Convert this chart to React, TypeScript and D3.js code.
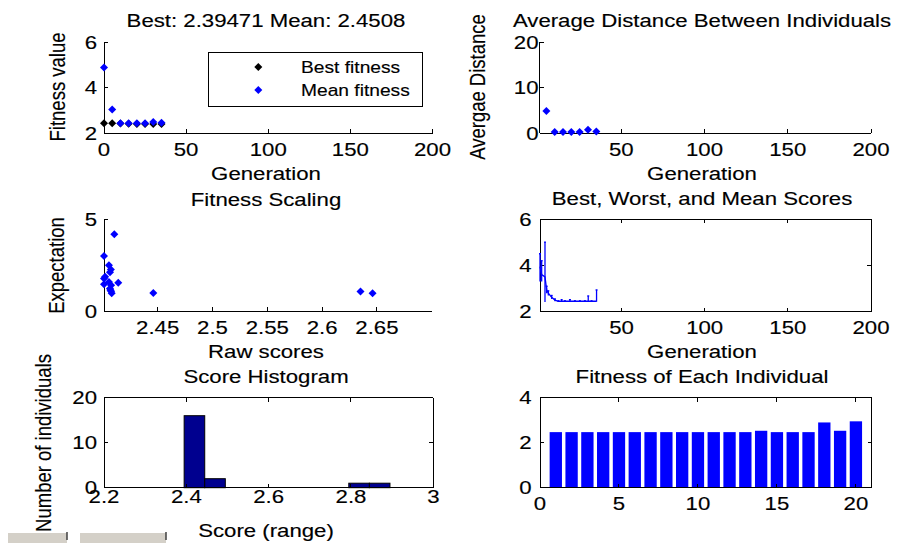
import React from 'react';
import * as d3 from 'd3';

// ---------- data ----------
// Panel 1: best / mean fitness per generation
const fitGens = [0, 5, 10, 15, 20, 25, 30, 35];
const bestFitness = [2.43, 2.43, 2.42, 2.41, 2.40, 2.40, 2.40, 2.395];
const meanFitness = [4.89, 3.04, 2.43, 2.43, 2.43, 2.43, 2.49, 2.45];

// Panel 2: average distance between individuals
const distGens = [5, 10, 15, 20, 25, 30, 35];
const avgDistance = [4.9, 0.3, 0.3, 0.3, 0.3, 0.8, 0.4];

// Panel 3: fitness scaling (raw score vs expectation)
const rawScores = [2.4104, 2.401, 2.4055, 2.4073, 2.4065, 2.402, 2.401, 2.414, 2.4055, 2.401, 2.4075, 2.4065, 2.4075, 2.408, 2.4068, 2.446, 2.635, 2.646];
const expectations = [4.18, 2.99, 2.5, 2.27, 2.12, 1.87, 1.78, 1.54, 1.59, 1.47, 1.41, 1.23, 1.09, 0.98, 1.15, 0.99, 1.07, 0.98];

// Panel 4: best, worst, mean scores
const rangeGens = [1, 2, 4, 5, 6, 8, 10, 12, 14, 16, 19, 22, 25, 28, 30, 32, 35];
const rangeMean = [3.95, 3.6, 3.5, 2.94, 2.8, 2.62, 2.5, 2.45, 2.45, 2.45, 2.45, 2.45, 2.45, 2.45, 2.46, 2.45, 2.45];
const rangeMin = [3.3, 3.3, 2.42, 2.8, 2.7, 2.55, 2.45, 2.43, 2.43, 2.43, 2.43, 2.43, 2.43, 2.43, 2.43, 2.43, 2.43];
const rangeMax = [4.5, 4.2, 5.0, 3.1, 2.9, 2.7, 2.55, 2.47, 2.52, 2.47, 2.52, 2.47, 2.47, 2.47, 2.68, 2.47, 2.94];

// Panel 5: score histogram
const histStart = 2.39471;
const histWidth = 0.05;
const histCounts = [16, 2, 0, 0, 0, 0, 0, 0, 1, 1];

// Panel 6: fitness of each individual
const individuals = d3.range(1, 21);
const individualFitness = [2.47, 2.47, 2.47, 2.47, 2.47, 2.47, 2.47, 2.47, 2.47, 2.47, 2.47, 2.47, 2.47, 2.53, 2.47, 2.47, 2.47, 2.9, 2.53, 2.95];

// tick labels
const genTicks = [0, 50, 100, 150, 200];
const genTicksNoZero = [50, 100, 150, 200];
const fitTicks = [2, 4, 6];
const distTicks = [0, 10, 20];
const rawTicks = [2.45, 2.5, 2.55, 2.6, 2.65];
const expTicks = [0, 5];
const histXTicks = [2.2, 2.4, 2.6, 2.8, 3];
const histYTicks = [0, 10, 20];
const indXTicks = [0, 5, 10, 15, 20];
const indYTicks = [0, 2, 4];

// ---------- style ----------
const SX = 1.2;
const FS = 18.5;
const FONT = '"Liberation Sans", Arial, Helvetica, sans-serif';
const BLUE = '#0000ff';
const NAVY = '#00008f';

const Txt = ({ x, y, anchor = 'middle', rot = false, size = FS, children }: any) => (
  <text
    transform={`translate(${x},${y}) scale(${SX},1)${rot ? ' rotate(-90)' : ''}`}
    textAnchor={anchor}
    fontSize={size}
    fontFamily={FONT}
    fill="#000"
    stroke="#000"
    strokeWidth={0.15}
  >
    {children}
  </text>
);

const DIAMOND = 'M0,-4L4,0L0,4L-4,0Z';

const Frame = ({ xs, ys, xTicks, yTicks, box, xLabBase, yLabRight, tickLen = 4 }: any) => {
  const [x0, x1] = xs.range();
  const [yb, yt] = ys.range();
  return (
    <g>
      <g stroke="#000" strokeWidth={1} shapeRendering="crispEdges" fill="none">
        <line x1={x0} y1={yb} x2={x0} y2={yt} />
        <line x1={x0} y1={yb} x2={x1} y2={yb} />
        {box && <line x1={x0} y1={yt} x2={x1} y2={yt} />}
        {box && <line x1={x1} y1={yb} x2={x1} y2={yt} />}
        {xTicks.map((t: number) => (
          <g key={'x' + t}>
            <line x1={xs(t)} y1={yb} x2={xs(t)} y2={yb - tickLen} />
            {box && <line x1={xs(t)} y1={yt} x2={xs(t)} y2={yt + tickLen} />}
          </g>
        ))}
        {yTicks.map((t: number) => (
          <g key={'y' + t}>
            <line x1={x0} y1={ys(t)} x2={x0 + tickLen} y2={ys(t)} />
            {box && <line x1={x1} y1={ys(t)} x2={x1 - tickLen} y2={ys(t)} />}
          </g>
        ))}
      </g>
      {xTicks.map((t: number) => (
        <Txt key={'xl' + t} x={xs(t)} y={xLabBase}>{String(t)}</Txt>
      ))}
      {yTicks.map((t: number) => (
        <Txt key={'yl' + t} x={yLabRight} y={ys(t) + 6.6} anchor="end">{String(t)}</Txt>
      ))}
    </g>
  );
};

export default function App() {
  // Panel scales
  const x1s = d3.scaleLinear().domain([0, 200]).range([104, 432.5]);
  const y1s = d3.scaleLinear().domain([2, 6]).range([133, 42.3]);

  const x2s = d3.scaleLinear().domain([1, 200]).range([539.7, 871]);
  const y2s = d3.scaleLinear().domain([0, 20]).range([133.3, 42.3]);

  const x3s = d3.scaleLinear().domain([2.401, 2.7005]).range([104, 432.3]);
  const y3s = d3.scaleLinear().domain([0, 5]).range([311.3, 219]);

  const x4s = d3.scaleLinear().domain([1, 200]).range([540, 871]);
  const y4s = d3.scaleLinear().domain([2, 6]).range([311.7, 219]);

  const x5s = d3.scaleLinear().domain([2.2, 3]).range([104, 433.3]);
  const y5s = d3.scaleLinear().domain([0, 20]).range([487.7, 397.7]);

  const x6s = d3.scaleLinear().domain([0, 21]).range([540, 871.7]);
  const y6s = d3.scaleLinear().domain([0, 4]).range([487.7, 397.7]);

  const meanLine = d3
    .line<number>()
    .x((_, i) => x4s(rangeGens[i]))
    .y((d) => y4s(d));

  const barW = x6s(0.78) - x6s(0);

  return (
    <svg width={897} height={543} style={{ position: 'fixed', left: 0, top: 0, background: '#fff' }}>
      <rect x={0} y={0} width={897} height={543} fill="#fff" />

      {/* Panel 1 */}
      <Txt x={266} y={27.3}>Best: 2.39471 Mean: 2.4508</Txt>
      <Frame xs={x1s} ys={y1s} xTicks={genTicks} yTicks={fitTicks} box={false} xLabBase={156} yLabRight={97} />
      <Txt x={266} y={180}>Generation</Txt>
      <Txt x={64.5} y={87} rot>Fitness value</Txt>
      {fitGens.map((g, i) => (
        <path key={'b' + i} d={DIAMOND} transform={`translate(${x1s(g)},${y1s(bestFitness[i])})`} fill="#000" />
      ))}
      {fitGens.map((g, i) => (
        <path key={'m' + i} d={DIAMOND} transform={`translate(${x1s(g)},${y1s(meanFitness[i])})`} fill={BLUE} />
      ))}
      <rect x={208} y={52} width={214} height={54} fill="#fff" stroke="#000" strokeWidth={1} shapeRendering="crispEdges" />
      <path d={DIAMOND} transform="translate(258.3,67)" fill="#000" />
      <Txt x={301} y={72.7} anchor="start" size={16}>Best fitness</Txt>
      <path d={DIAMOND} transform="translate(258.3,90)" fill={BLUE} />
      <Txt x={301} y={96.3} anchor="start" size={16}>Mean fitness</Txt>

      {/* Panel 2 */}
      <Txt x={702} y={27.3}>Average Distance Between Individuals</Txt>
      <Frame xs={x2s} ys={y2s} xTicks={genTicksNoZero} yTicks={distTicks} box={false} xLabBase={156} yLabRight={538.5} />
      <Txt x={702} y={180}>Generation</Txt>
      <Txt x={485} y={87} rot>Avergae Distance</Txt>
      {distGens.map((g, i) => (
        <path key={'d' + i} d={DIAMOND} transform={`translate(${x2s(g)},${y2s(avgDistance[i])})`} fill={BLUE} />
      ))}

      {/* Panel 3 */}
      <Txt x={266} y={205.7}>Fitness Scaling</Txt>
      <Frame xs={x3s} ys={y3s} xTicks={rawTicks} yTicks={expTicks} box={false} xLabBase={334.3} yLabRight={97} />
      <Txt x={266} y={357.7}>Raw scores</Txt>
      <Txt x={64} y={265.5} rot>Expectation</Txt>
      {rawScores.map((s, i) => (
        <path key={'s' + i} d={DIAMOND} transform={`translate(${x3s(s)},${y3s(expectations[i])})`} fill={BLUE} />
      ))}

      {/* Panel 4 */}
      <Txt x={702} y={205}>Best, Worst, and Mean Scores</Txt>
      <Frame xs={x4s} ys={y4s} xTicks={genTicksNoZero} yTicks={fitTicks} box={true} xLabBase={334.3} yLabRight={531.7} />
      <Txt x={702} y={358.3}>Generation</Txt>
      <g stroke={BLUE} strokeWidth={1.3} fill="none">
        <path d={meanLine(rangeMean) || ''} />
        {rangeGens.map((g, i) => (
          <g key={'e' + i}>
            <line x1={x4s(g)} x2={x4s(g)} y1={y4s(rangeMin[i])} y2={y4s(rangeMax[i])} />
            <line x1={x4s(g) - 1} x2={x4s(g) + 1} y1={y4s(rangeMax[i])} y2={y4s(rangeMax[i])} />
          </g>
        ))}
      </g>

      {/* Panel 5 */}
      <Txt x={266} y={383.3}>Score Histogram</Txt>
      {histCounts.map((c, i) =>
        c > 0 ? (
          <rect
            key={'h' + i}
            x={x5s(histStart + i * histWidth)}
            y={y5s(c)}
            width={x5s(histStart + (i + 1) * histWidth) - x5s(histStart + i * histWidth)}
            height={y5s(0) - y5s(c)}
            fill={NAVY}
            stroke="#000"
            strokeWidth={1}
          />
        ) : null
      )}
      <Frame xs={x5s} ys={y5s} xTicks={histXTicks} yTicks={histYTicks} box={true} xLabBase={503.3} yLabRight={97} />
      <Txt x={266} y={536.7}>Score (range)</Txt>
      <Txt x={51} y={443} rot>Number of individuals</Txt>

      {/* Panel 6 */}
      <Txt x={702} y={383.3}>Fitness of Each Individual</Txt>
      {individuals.map((n, i) => (
        <rect
          key={'f' + i}
          x={x6s(n) - barW / 2}
          y={y6s(individualFitness[i])}
          width={barW}
          height={y6s(0) - y6s(individualFitness[i])}
          fill={BLUE}
        />
      ))}
      <Frame xs={x6s} ys={y6s} xTicks={indXTicks} yTicks={indYTicks} box={true} xLabBase={510} yLabRight={531.7} />

      {/* window buttons at bottom-left */}
      <rect x={8} y={533} width={59} height={12} fill="#d4d0c8" />
      <line x1={67} y1={532} x2={67} y2={540} stroke="#404040" strokeWidth={1.5} />
      <rect x={80} y={533} width={86} height={12} fill="#d4d0c8" />
      <line x1={166} y1={532} x2={166} y2={540} stroke="#404040" strokeWidth={1.5} />
    </svg>
  );
}
